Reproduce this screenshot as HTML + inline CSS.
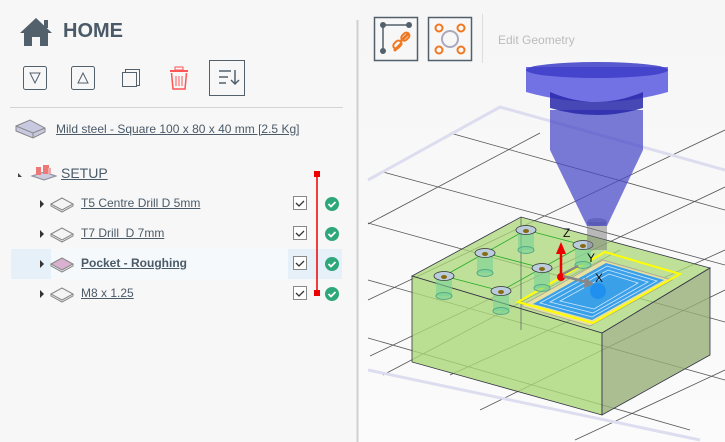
<!DOCTYPE html><html><head><style>
body{margin:0;width:725px;height:442px;overflow:hidden;background:#f7f7f7;font-family:"Liberation Sans",sans-serif;position:relative}
.t{position:absolute;color:#4a5a68;font-size:12px;text-decoration:underline;white-space:nowrap}
</style></head><body>
<svg width="725" height="442" style="position:absolute;left:0;top:0">
<defs><linearGradient id="bg" x1="0" y1="0" x2="0" y2="1"><stop offset="0" stop-color="#f6f6f6"/><stop offset="1" stop-color="#fbfbfb"/></linearGradient></defs>
<rect x="359" y="0" width="366" height="442" fill="url(#bg)"/>
<line x1="357.5" y1="20" x2="357.5" y2="442" stroke="#d0d0d0" stroke-width="2"/>
<path d="M20 33 L36 18 L52 33 L48 33 L48 46 L40 46 L40 37 L32 37 L32 46 L24 46 L24 33 Z" fill="#52606c"/>
<rect x="44" y="20" width="4" height="8" fill="#52606c"/>
<rect x="23.5" y="66.5" width="23" height="23" rx="2" fill="none" stroke="#52606c"/>
<path d="M30 73 L40 73 L35 83 Z" fill="none" stroke="#52606c"/>
<rect x="71.5" y="66.5" width="23" height="23" rx="2" fill="none" stroke="#52606c"/>
<path d="M78 83 L88 83 L83 73 Z" fill="none" stroke="#52606c"/>
<rect x="125.5" y="69.5" width="14" height="16" fill="none" stroke="#52606c"/>
<rect x="122.5" y="72.5" width="14" height="14" fill="#f7f7f7" stroke="#52606c"/>
<rect x="170" y="70" width="18" height="2" fill="#f55"/><rect x="175" y="67" width="8" height="3" fill="none" stroke="#f55"/>
<path d="M171.5 73 L173 89 L185 89 L186.5 73" fill="none" stroke="#f55" stroke-width="1.5"/>
<path d="M176 76v10M179 76v10M182 76v10" stroke="#f55"/>
<rect x="209.5" y="60.5" width="35" height="35" fill="none" stroke="#52606c"/>
<path d="M219 71h12M219 77h9M219 83h7" stroke="#52606c" stroke-width="1.5"/>
<path d="M235 70v14M231 80l4 4 4-4" fill="none" stroke="#52606c" stroke-width="1.5"/>
<line x1="10" y1="107.5" x2="343" y2="107.5" stroke="#d4d4d4"/>
<path d="M16 126 L30 120 L45 128 L45 132 L33 138 L16 131 Z" fill="#c8c8e0" stroke="#888"/>
<path d="M16 126 L33 133 L45 128" fill="none" stroke="#888"/><path d="M33 133 V138" stroke="#888"/>
<path d="M18 173 l4 4 -4 0z" fill="#444"/>
<path d="M32 176 l12-4 12 4 -12 4z" fill="#ccd" stroke="#889"/>
<rect x="36" y="167" width="5" height="8" fill="#e77"/><rect x="43" y="165" width="6" height="9" fill="#e77"/><rect x="48" y="168" width="3" height="6" fill="#eaa"/>
<rect x="11" y="249" width="331" height="30" fill="#e6f0f8"/>
<rect x="51" y="249" width="237" height="30" fill="#f5f9fc"/>
<g id="rows"></g>
<line x1="317" y1="174" x2="317" y2="293" stroke="#e00" stroke-width="1.5"/>
<rect x="314" y="171" width="6" height="6" fill="#e00"/><rect x="314" y="290" width="6" height="6" fill="#e00"/>
<rect x="374.5" y="17.5" width="43" height="43" fill="#f7f7f7" stroke="#52606c" stroke-width="1.5"/>
<path d="M383 25 H409 M383 25 V51" stroke="#52606c" stroke-width="1.5"/>
<circle cx="383" cy="25" r="3" fill="#52606c"/><circle cx="409" cy="25" r="3" fill="#52606c"/><circle cx="383" cy="51" r="3" fill="#52606c"/>
<path d="M395 50 l6-6 M402 40 l6-6" stroke="#f07820" stroke-width="3" stroke-linecap="round"/>
<rect x="393" y="42" width="9" height="6" rx="3" transform="rotate(-45 397 45)" fill="none" stroke="#f07820" stroke-width="2"/>
<rect x="401" y="34" width="9" height="6" rx="3" transform="rotate(-45 405 37)" fill="none" stroke="#f07820" stroke-width="2"/>
<rect x="428.5" y="17.5" width="43" height="43" fill="#f7f7f7" stroke="#52606c" stroke-width="1.5"/>
<circle cx="450" cy="39" r="8" fill="none" stroke="#aab" stroke-width="2"/>
<g fill="none" stroke="#f07820" stroke-width="2"><circle cx="439" cy="28" r="3.5"/><circle cx="461" cy="28" r="3.5"/><circle cx="439" cy="50" r="3.5"/><circle cx="461" cy="50" r="3.5"/></g>
<line x1="482.5" y1="14" x2="482.5" y2="63" stroke="#ddd"/>
<g stroke="#555" stroke-width="0.8" fill="none">
<path d="M368 224 L540 133 M368 300 L725 130 M370 356 L725 187 M383 375 L620 250 M450 375 L725 250 M480 410 L725 290 M575 440 L725 370"/>
<path d="M450 133 L725 210 M383 172 L725 265 M368 223 L725 322 M368 280 L725 380 M368 338 L690 430"/>
</g>
<g stroke="#ddddf0" stroke-width="3" fill="none"><path d="M368 180 L500 107 L725 170 M368 370 L700 440"/></g>
<polygon points="412,276 521,217 710,268 602,333" fill="rgba(170,215,120,0.75)" stroke="#334" stroke-width="0.8"/>
<polygon points="412,276 602,333 602,415 412,362" fill="rgba(170,215,120,0.8)" stroke="#334" stroke-width="0.8"/>
<polygon points="602,333 710,268 710,355 602,415" fill="rgba(150,175,120,0.8)" stroke="#334" stroke-width="0.8"/>
<path d="M521 217 V330" stroke="#445" stroke-width="0.6"/>
<path d="M444 276 L526 230 L583 245 L501 291 Z M485 253 L542 268" fill="none" stroke="#2a2" stroke-width="0.8"/>
<polygon points="521,306 603,260 672,280 590,326" fill="#e8e0a0" stroke="#aa9" />
<polygon points="533,304 606,263 664,280 592,320" fill="#3aa0e8"/>
<g stroke="#cfe8ff" stroke-width="0.8" fill="none"><path d="M540 303 L607 266 L657 281 L592 317 Z M550 302 L608 270 L648 282 L593 313 Z M560 301 L609 274 L638 283 L594 309 Z"/></g>
<polygon points="518,302 605,252 680,274 593,323" fill="none" stroke="#ff0" stroke-width="2"/>
<circle cx="598" cy="291" r="8" fill="#2090f0"/>
<g id="holes"></g>
<rect x="587" y="222" width="20" height="28" fill="rgba(120,120,120,0.5)"/>
<ellipse cx="597" cy="222" rx="10" ry="4" fill="rgba(100,100,100,0.5)"/>
<path d="M550 110 L643 110 L643 150 L607 226 L587 226 L550 150 Z" fill="rgba(70,70,200,0.72)"/>
<path d="M526 67 L668 67 L668 92 Q597 112 526 92 Z" fill="rgba(90,90,225,0.85)"/>
<path d="M550 92 Q597 112 643 92 L643 108 Q597 122 550 108 Z" fill="rgba(40,40,170,0.85)"/>
<ellipse cx="597" cy="70" rx="71" ry="8" fill="rgba(60,60,200,0.85)"/>
<path d="M561 276 V252" stroke="#e00" stroke-width="2.5"/><path d="M556 254 L561 242 L566 254 Z" fill="#e00"/>
<circle cx="561" cy="277" r="4" fill="#e00"/>
<path d="M563 276 L590 283" stroke="#888" stroke-width="2.5"/><path d="M585 277 L594 284 L584 288Z" fill="#888"/>
<path d="M563 274 L578 266" stroke="#888" stroke-width="2.5"/>
<text x="563" y="237" font-size="12" font-family="Liberation Sans" fill="#111">Z</text>
<text x="587" y="262" font-size="12" font-family="Liberation Sans" fill="#111">Y</text>
<text x="595" y="282" font-size="12" font-family="Liberation Sans" fill="#111">X</text>
</svg>
<div style="position:absolute;left:63px;top:20px;font-size:20px;font-weight:bold;color:#4a5a68">HOME</div>
<div class="t" style="left:56px;top:122px">Mild steel - Square 100 x 80 x 40 mm [2.5 Kg]</div>
<div class="t" style="left:61px;top:165px;font-size:14px">SETUP</div>
<div class="t" style="left:81px;top:196px">T5 Centre Drill D 5mm</div>
<div class="t" style="left:81px;top:226px">T7 Drill&nbsp; D 7mm</div>
<div class="t" style="left:81px;top:256px;font-weight:bold">Pocket - Roughing</div>
<div class="t" style="left:81px;top:286px">M8 x 1.25</div>
<div style="position:absolute;left:498px;top:33px;font-size:12px;color:#bbb">Edit Geometry</div>
<script>
var s='';[204,234,264,294].forEach(function(y,i){
s+='<path d="M40 '+(y-4)+' l4 4 -4 4z" fill="#333"/>';
s+='<path d="M51 '+y+' l11-6 11 6 -11 6z" fill="'+(i==2?'#d9b0d0':'#f4f4f4')+'" stroke="#888"/><path d="M51 '+y+' v2 l11 6 11-6 v-2" fill="none" stroke="#888"/>';
s+='<rect x="293.5" y="'+(y-7.5)+'" width="13" height="13" fill="#fff" stroke="#888"/><path d="M296 '+(y-1)+' l3 3 5-5" fill="none" stroke="#333" stroke-width="1.3"/>';
s+='<circle cx="332" cy="'+y+'" r="7" fill="#2ea77a"/><path d="M328.5 '+y+' l2.5 2.5 4.5-4.5" fill="none" stroke="#fff" stroke-width="1.8"/>';});
document.getElementById('rows').innerHTML=s;
var h='';[[444,276],[485,253],[526,230],[501,291],[542,268],[583,245]].forEach(function(p){var x=p[0],y=p[1];
h+='<rect x="'+(x-8)+'" y="'+y+'" width="16" height="20" fill="rgba(120,210,150,0.6)"/><ellipse cx="'+x+'" cy="'+(y+20)+'" rx="8" ry="3.5" fill="rgba(120,210,150,0.6)" stroke="#5a8"/>';
h+='<ellipse cx="'+x+'" cy="'+y+'" rx="10" ry="4.5" fill="#bcd" stroke="#333" stroke-width="0.8"/><ellipse cx="'+x+'" cy="'+(y+1)+'" rx="3" ry="2" fill="#886a10"/>';});
document.getElementById('holes').innerHTML=h;
</script>
</body></html>
